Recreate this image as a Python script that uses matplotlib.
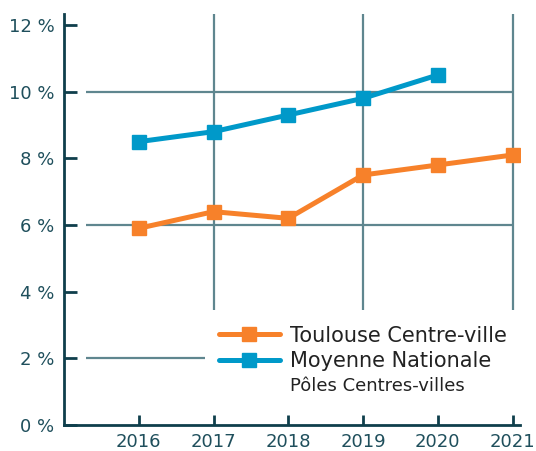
import matplotlib
matplotlib.use("Agg")
import matplotlib.pyplot as plt
from matplotlib.lines import Line2D
from matplotlib.patches import Rectangle

years = [2016, 2017, 2018, 2019, 2020, 2021]
toulouse = [5.9, 6.4, 6.2, 7.5, 7.8, 8.1]
nat_years = [2016, 2017, 2018, 2019, 2020]
nationale = [8.5, 8.8, 9.3, 9.8, 10.5]
y_ticks = [0, 2, 4, 6, 8, 10, 12]
y_labels = ["0 %", "2 %", "4 %", "6 %", "8 %", "10 %", "12 %"]
h_grid = [2, 6, 10]
v_grid = [2017, 2019, 2021]
labels = ["Toulouse Centre-ville", "Moyenne Nationale", "Pôles Centres-villes"]

ORANGE = "#f7812a"
BLUE = "#0099c9"
DARK = "#0f3f4c"
TXT = "#1f4f5c"
GRID = "#5f868f"

plt.rcParams['font.family'] = ['DejaVu Sans']

fig = plt.figure(figsize=(5.36, 4.51), dpi=100)
ax = fig.add_axes([64/536, 26/451, (520-64)/536, (425-14)/451])

ax.set_xlim(2015, 2021.1)
ax.set_ylim(0, 12.33)

ax.hlines(h_grid, 2015.3, 2021, color=GRID, lw=1.6, zorder=1)
ax.vlines(v_grid, 0, 12.33, color=GRID, lw=1.6, zorder=1)

# white area behind the legend, hiding the grid
ax.add_patch(Rectangle((0.309, 0.0), 0.75, 0.28, transform=ax.transAxes,
                       facecolor='white', edgecolor='none', zorder=1.5,
                       clip_on=False))

ax.plot(years, toulouse, color=ORANGE, lw=3.6, marker='s', ms=10, zorder=3,
        solid_capstyle='round')
ax.plot(nat_years, nationale, color=BLUE, lw=3.6, marker='s', ms=10, zorder=3,
        solid_capstyle='round')

for s in ['top', 'right']:
    ax.spines[s].set_visible(False)
for s in ['left', 'bottom']:
    ax.spines[s].set_color(DARK)
    ax.spines[s].set_linewidth(2)

ax.set_yticks(y_ticks)
ax.set_yticklabels(y_labels)
ax.set_xticks(years)
ax.set_xticklabels([str(y) for y in years])
ax.tick_params(axis='y', direction='in', length=9.5, width=2, color=DARK,
               labelcolor=TXT, labelsize=13, pad=7)
ax.tick_params(axis='x', direction='in', length=7, width=2, color=DARK,
               labelcolor=TXT, labelsize=13, pad=6)

handles = [
    Line2D([], [], color=ORANGE, lw=3.6, marker='s', ms=10, solid_capstyle='round'),
    Line2D([], [], color=BLUE, lw=3.6, marker='s', ms=10, solid_capstyle='round'),
    Line2D([], [], alpha=0),
]
leg = ax.legend(handles, labels, loc='upper left', bbox_to_anchor=(0.322, 0.262),
                frameon=False, fontsize=15, handlelength=2.9, handletextpad=0.5,
                labelspacing=0.25, borderpad=0.4, borderaxespad=0)
leg.set_zorder(4)
for t in leg.get_texts():
    t.set_color('#222222')
leg.get_texts()[2].set_fontsize(13)

fig.savefig("out.png", dpi=100)
